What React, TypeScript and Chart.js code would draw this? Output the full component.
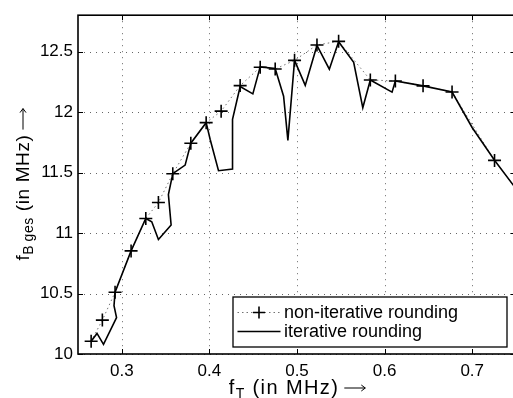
import React, { useEffect, useRef } from "react";
import { Chart, registerables } from "chart.js";

Chart.register(...registerables);

// Non-iterative rounding (markers + dotted line)
const nonIterX = [0.265, 0.2778, 0.2923, 0.3106, 0.3274, 0.3418, 0.3582, 0.3788, 0.3963, 0.4134, 0.4351, 0.458, 0.4751, 0.4972, 0.5228, 0.5475, 0.5837, 0.6123, 0.6439, 0.677, 0.7255, 0.76];
const nonIterY = [10.105, 10.28, 10.51, 10.852, 11.12, 11.252, 11.49, 11.742, 11.912, 12.007, 12.218, 12.37, 12.355, 12.427, 12.554, 12.584, 12.265, 12.256, 12.216, 12.165, 11.6, 11.27];

// Iterative rounding (solid line)
const iterX = [0.265, 0.2717, 0.2791, 0.294, 0.2911, 0.2923, 0.3106, 0.3274, 0.3342, 0.3418, 0.3563, 0.3532, 0.3582, 0.3723, 0.3788, 0.3963, 0.4009, 0.4104, 0.4264, 0.4264, 0.4351, 0.4496, 0.458, 0.4751, 0.4847, 0.4896, 0.4972, 0.5094, 0.5228, 0.5369, 0.5475, 0.5647, 0.5751, 0.5837, 0.6085, 0.6123, 0.6439, 0.677, 0.6999, 0.7255, 0.76];
const iterY = [10.105, 10.17, 10.08, 10.30, 10.40, 10.51, 10.852, 11.12, 11.093, 10.947, 11.066, 11.317, 11.49, 11.561, 11.742, 11.912, 11.773, 11.515, 11.529, 11.94, 12.21, 12.15, 12.373, 12.36, 12.13, 11.765, 12.427, 12.22, 12.55, 12.354, 12.58, 12.41, 12.035, 12.265, 12.164, 12.256, 12.216, 12.165, 11.872, 11.601, 11.27];

const xTickValues = [0.3, 0.4, 0.5, 0.6, 0.7];
const xTickLabels = ["0.3", "0.4", "0.5", "0.6", "0.7"];
const yTickValues = [10, 10.5, 11, 11.5, 12, 12.5];
const yTickLabels = ["10", "10.5", "11", "11.5", "12", "12.5"];

const legendLabels = ["non-iterative rounding", "iterative rounding"];

const FONT = '"Liberation Sans", Arial, Helvetica, sans-serif';

const ARROW_GAP = 5;
const ARROW_LEN = 21;

const framePlugin = {
  id: "matlabFrame",
  beforeDatasetsDraw(chart: any) {
    const { ctx, chartArea } = chart;
    const { left, right, top, bottom } = chartArea;
    const xs = chart.scales.x;
    const ys = chart.scales.y;
    ctx.save();
    ctx.strokeStyle = "rgba(0,0,0,0.6)";
    ctx.lineWidth = 1;
    ctx.setLineDash([1, 5]);
    xTickValues.forEach((v) => {
      const px = Math.round(xs.getPixelForValue(v)) + 0.5;
      ctx.beginPath();
      ctx.moveTo(px, top);
      ctx.lineTo(px, bottom);
      ctx.stroke();
    });
    yTickValues.forEach((v) => {
      const py = Math.round(ys.getPixelForValue(v)) + 0.5;
      ctx.beginPath();
      ctx.moveTo(left, py);
      ctx.lineTo(right, py);
      ctx.stroke();
    });
    ctx.restore();
  },
  afterDatasetsDraw(chart: any) {
    const { ctx, chartArea } = chart;
    const { left, right, top, bottom } = chartArea;
    const xs = chart.scales.x;
    const ys = chart.scales.y;
    ctx.save();
    ctx.setLineDash([]);
    ctx.strokeStyle = "#000";
    ctx.lineWidth = 1;
    const tl = 5;
    xTickValues.forEach((v) => {
      const px = Math.round(xs.getPixelForValue(v)) + 0.5;
      ctx.beginPath();
      ctx.moveTo(px, bottom);
      ctx.lineTo(px, bottom - tl);
      ctx.moveTo(px, top);
      ctx.lineTo(px, top + tl);
      ctx.stroke();
    });
    yTickValues.forEach((v) => {
      const py = Math.round(ys.getPixelForValue(v)) + 0.5;
      ctx.beginPath();
      ctx.moveTo(left, py);
      ctx.lineTo(left + tl, py);
      ctx.moveTo(right, py);
      ctx.lineTo(right - tl, py);
      ctx.stroke();
    });
    ctx.lineWidth = 1.6;
    ctx.strokeRect(left, top, right - left, bottom - top);
    ctx.restore();
  },
  afterDraw(chart: any) {
    const { ctx, chartArea } = chart;
    const { left, right, top, bottom } = chartArea;
    ctx.save();
    // Legend
    const lw = 274;
    const lh = 50;
    const lx = right - 9 - lw;
    const ly = bottom - 7 - lh;
    ctx.fillStyle = "#fff";
    ctx.fillRect(lx, ly, lw, lh);
    ctx.strokeStyle = "#000";
    ctx.lineWidth = 1.3;
    ctx.strokeRect(lx, ly, lw, lh);
    const r1 = ly + 15.5;
    const r2 = ly + 34.5;
    const sx0 = lx + 4.5;
    const sx1 = lx + 47.5;
    ctx.strokeStyle = "rgba(0,0,0,0.55)";
    ctx.lineWidth = 1;
    ctx.setLineDash([1.5, 3]);
    ctx.beginPath();
    ctx.moveTo(sx0, r1);
    ctx.lineTo(sx1, r1);
    ctx.stroke();
    ctx.setLineDash([]);
    ctx.strokeStyle = "#000";
    ctx.lineWidth = 1.6;
    const cx = (sx0 + sx1) / 2;
    ctx.beginPath();
    ctx.moveTo(cx - 6, r1);
    ctx.lineTo(cx + 6, r1);
    ctx.moveTo(cx, r1 - 6);
    ctx.lineTo(cx, r1 + 6);
    ctx.stroke();
    ctx.lineWidth = 1.5;
    ctx.beginPath();
    ctx.moveTo(sx0, r2);
    ctx.lineTo(sx1, r2);
    ctx.stroke();
    ctx.fillStyle = "#000";
    ctx.font = `18px ${FONT}`;
    ctx.textBaseline = "alphabetic";
    ctx.textAlign = "left";
    ctx.fillText(legendLabels[0], lx + 51, r1 + 5);
    ctx.fillText(legendLabels[1], lx + 51, r2 + 5);

    // Axis titles
    const measure = (parts: [string, string, number][]) =>
      parts.reduce((s, p) => {
        ctx.font = p[1];
        return s + ctx.measureText(p[0]).width;
      }, 0) + ARROW_GAP + ARROW_LEN;
    const drawParts = (parts: [string, string, number][], x0: number, base: number) => {
      let xx = x0;
      parts.forEach((p) => {
        ctx.font = p[1];
        ctx.fillText(p[0], xx, base + p[2]);
        xx += ctx.measureText(p[0]).width;
      });
      const ax0 = xx + ARROW_GAP;
      const ax1 = ax0 + ARROW_LEN;
      const ay = base - 6;
      ctx.strokeStyle = "#000";
      ctx.lineWidth = 1;
      ctx.beginPath();
      ctx.moveTo(ax0, ay);
      ctx.lineTo(ax1, ay);
      ctx.moveTo(ax1 - 4, ay - 3);
      ctx.lineTo(ax1, ay);
      ctx.lineTo(ax1 - 4, ay + 3);
      ctx.stroke();
    };

    (ctx as any).letterSpacing = "1.4px";
    const xParts: [string, string, number][] = [
      ["f", `20px ${FONT}`, 0],
      ["T", `14px ${FONT}`, 4],
      [" (in MHz)", `20px ${FONT}`, 0],
    ];
    const xw = measure(xParts);
    drawParts(xParts, (left + right) / 2 - xw / 2, 394);

    (ctx as any).letterSpacing = "0.6px";
    const yParts: [string, string, number][] = [
      ["f", `19px ${FONT}`, 0],
      ["B\u2009ges", `14px ${FONT}`, 4],
      [" (in MHz)", `19px ${FONT}`, 0],
    ];
    const yw = measure(yParts);
    ctx.translate(29, (top + bottom) / 2);
    ctx.rotate(-Math.PI / 2);
    drawParts(yParts, -yw / 2, 0);
    ctx.restore();
  },
};

export default function App() {
  const canvasRef = useRef<HTMLCanvasElement | null>(null);

  useEffect(() => {
    const canvas = canvasRef.current;
    if (!canvas) return;
    const nonIterData = nonIterX.map((x, i) => ({ x, y: nonIterY[i] }));
    const iterData = iterX.map((x, i) => ({ x, y: iterY[i] }));
    const chart = new Chart(canvas, {
      type: "scatter",
      data: {
        datasets: [
          {
            label: legendLabels[1],
            data: iterData,
            showLine: true,
            borderColor: "#000",
            borderWidth: 1.6,
            pointRadius: 0,
            pointHoverRadius: 0,
            tension: 0,
          },
          {
            label: legendLabels[0],
            data: nonIterData,
            showLine: true,
            borderColor: "rgba(0,0,0,0.55)",
            borderWidth: 1,
            borderDash: [1.5, 3],
            pointStyle: "cross",
            pointRadius: (c: any) => (c.dataIndex === nonIterX.length - 1 ? 0 : 6.5),
            pointBorderColor: "#000",
            pointBorderWidth: 1.6,
            pointBackgroundColor: "#000",
            tension: 0,
          },
        ],
      },
      options: {
        responsive: false,
        animation: false,
        events: [],
        layout: { padding: { left: 0, top: 9, right: 14, bottom: 0 } },
        plugins: {
          legend: { display: false },
          tooltip: { enabled: false },
          title: { display: false },
        },
        scales: {
          x: {
            type: "linear",
            min: 0.25,
            max: 0.75,
            grid: { display: false, drawTicks: false },
            border: { display: false },
            afterBuildTicks: (s: any) => {
              s.ticks = xTickValues.map((v) => ({ value: v }));
            },
            afterFit: (s: any) => {
              s.height = 44;
            },
            ticks: {
              autoSkip: false,
              maxRotation: 0,
              padding: 7,
              color: "#000",
              font: { family: FONT, size: 17 },
              callback: (v: any) => {
                const i = xTickValues.findIndex((t) => Math.abs(t - v) < 1e-9);
                return i >= 0 ? xTickLabels[i] : "";
              },
            },
          },
          y: {
            type: "linear",
            min: 10,
            max: 12.8,
            grid: { display: false, drawTicks: false },
            border: { display: false },
            afterBuildTicks: (s: any) => {
              s.ticks = yTickValues.map((v) => ({ value: v }));
            },
            afterFit: (s: any) => {
              s.width = 78;
            },
            ticks: {
              autoSkip: false,
              padding: 5,
              color: "#000",
              font: { family: FONT, size: 17 },
              callback: (v: any) => {
                const i = yTickValues.findIndex((t) => Math.abs(t - v) < 1e-9);
                return i >= 0 ? yTickLabels[i] : "";
              },
            },
          },
        },
      },
      plugins: [framePlugin],
    });
    return () => chart.destroy();
  }, []);

  return (
    <div
      style={{
        position: "absolute",
        left: 0,
        top: 0,
        width: 513,
        height: 398,
        overflow: "hidden",
        background: "#fff",
      }}
    >
      <canvas ref={canvasRef} width={530} height={398} style={{ display: "block" }} />
    </div>
  );
}
